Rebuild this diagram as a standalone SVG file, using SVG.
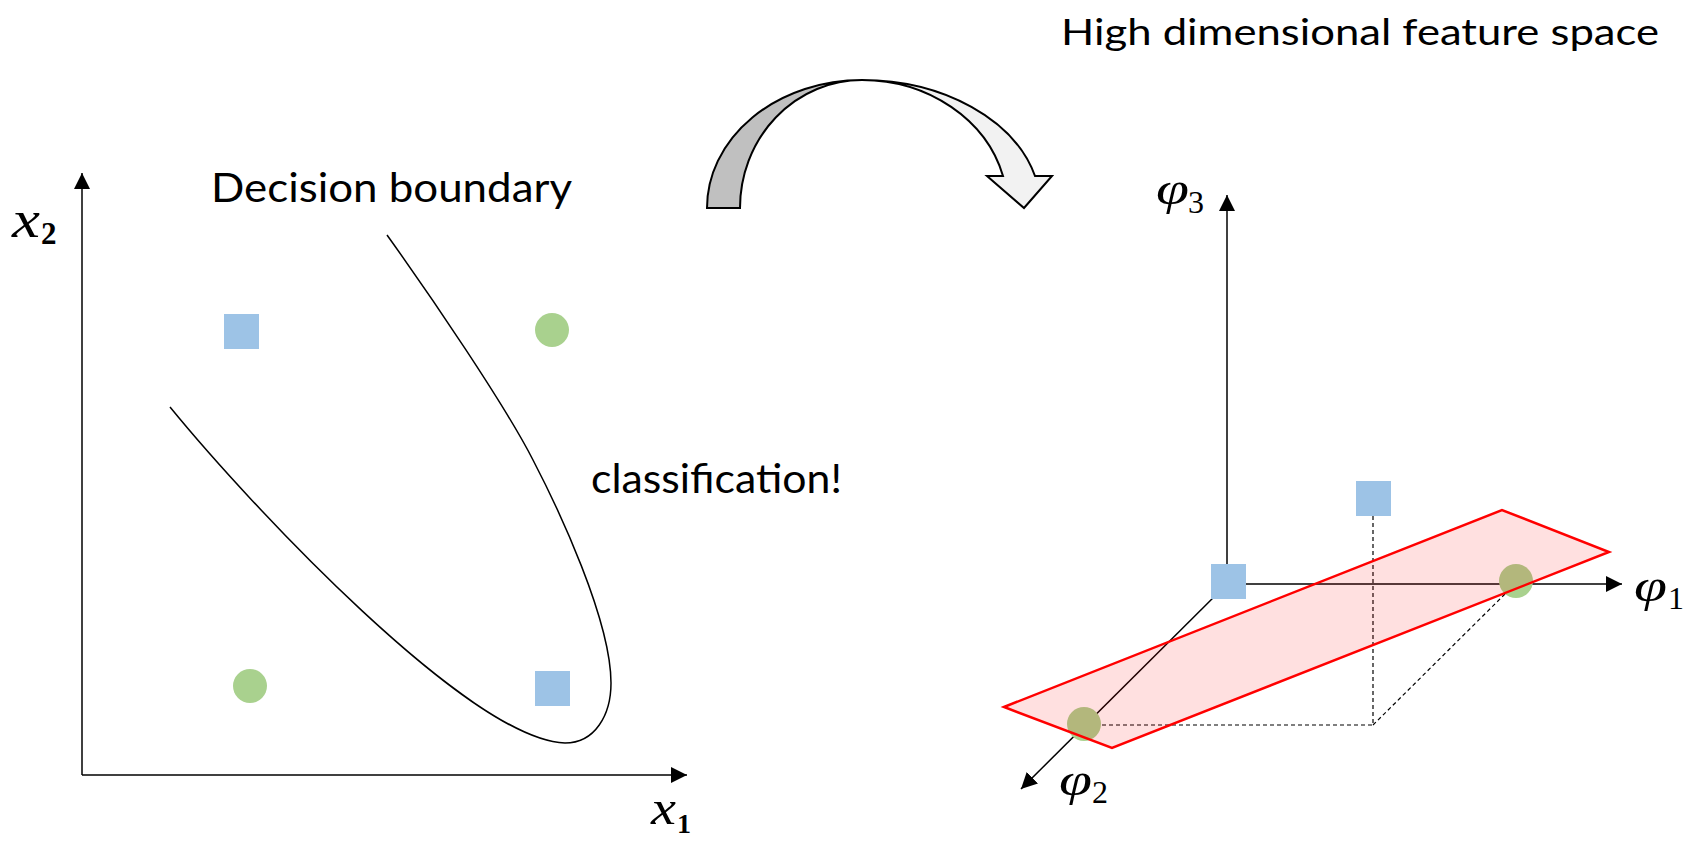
<svg xmlns="http://www.w3.org/2000/svg" width="1698" height="844" viewBox="0 0 1698 844">
<style>
.axis{stroke:#000;stroke-width:1.5;fill:none}
.dash{stroke:#000;stroke-width:1.2;fill:none;stroke-dasharray:4 3}
.sq{fill:#9dc3e6}
.ci{fill:#a9d18e}
.lbl{font-family:Lato,"Open Sans",sans-serif;fill:#000}
.math{font-family:"Liberation Serif","Times New Roman",serif;font-style:italic;fill:#000}
.sub{font-family:"Liberation Serif","Times New Roman",serif;font-style:normal;fill:#000}
</style>
<defs>
<marker id="ah" viewBox="0 0 16 16" refX="16" refY="8" markerWidth="16" markerHeight="16" markerUnits="userSpaceOnUse" orient="auto"><path d="M0,0 L16,8 L0,16 Z" fill="#000"/></marker>
</defs>
<rect width="1698" height="844" fill="#fff"/>

<g id="connectors">
<line class="axis" x1="82" y1="775" x2="82" y2="173" marker-end="url(#ah)"/>
<line class="axis" x1="82" y1="775" x2="687" y2="775" marker-end="url(#ah)"/>
<line class="axis" x1="1227" y1="584" x2="1227" y2="195" marker-end="url(#ah)"/>
<line class="axis" x1="1227" y1="584" x2="1622" y2="584" marker-end="url(#ah)"/>
<line class="axis" x1="1227" y1="584" x2="1021" y2="789" marker-end="url(#ah)"/>
<path class="dash" d="M1373,516 L1373,725 L1100,725 M1373,725 L1506,593"/>
</g>

<g id="boundary">
<path class="axis" d="M170,407 C250,505 470,740 565,743 C595,743 611,715 611,683 C611,620 558,508 533,460 C505,405 430,295 387,235"/>
</g>

<g id="mapping-arrow" stroke="#000" stroke-width="2" stroke-linejoin="miter">
<path d="M707,208 A155,128 0 0 1 862,80 A122,128 0 0 0 740,208 Z" fill="#c0c0c0"/>
<path d="M862,80 A179,128 0 0 1 1035,176 L1052,176 L1024,208 L987,176 L1003,176 A146,128 0 0 0 862,80 Z" fill="#f2f2f2"/>
</g>

<g id="left-points">
<rect class="sq" x="224" y="314" width="35" height="35"/>
<circle class="ci" cx="552" cy="330" r="17"/>
<circle class="ci" cx="250" cy="686" r="17"/>
<rect class="sq" x="535" y="671" width="35" height="35"/>
</g>

<g id="right-points">
<rect class="sq" x="1211" y="564" width="35" height="35"/>
<rect class="sq" x="1356" y="481" width="35" height="35"/>
<circle class="ci" cx="1084" cy="724" r="17"/>
<circle class="ci" cx="1516" cy="581" r="17"/>
</g>

<g id="plane">
<polygon points="1004,707 1502,510 1609,552 1112,748" fill="#ff0000" fill-opacity="0.12" stroke="#ff0000" stroke-width="2.5" stroke-linejoin="miter"/>
</g>

<g id="labels">
<text class="lbl" x="211" y="202" font-size="41" textLength="361" lengthAdjust="spacingAndGlyphs">Decision boundary</text>
<text class="lbl" x="591" y="493" font-size="41" textLength="251" lengthAdjust="spacingAndGlyphs">classification!</text>
<text class="lbl" x="1061" y="45" font-size="36" textLength="598" lengthAdjust="spacingAndGlyphs">High dimensional feature space</text>
<text class="math" x="12" y="237" font-size="52" textLength="28" lengthAdjust="spacingAndGlyphs">x</text>
<text class="sub" x="41" y="244" font-size="31" font-weight="bold">2</text>
<text class="math" x="651" y="824" font-size="48" textLength="25" lengthAdjust="spacingAndGlyphs">x</text>
<text class="sub" x="677" y="833" font-size="28" font-weight="bold">1</text>
<text class="math" x="1156" y="204" font-size="46" textLength="33" lengthAdjust="spacingAndGlyphs">φ</text>
<text class="sub" x="1188" y="213" font-size="32">3</text>
<text class="math" x="1634" y="601" font-size="46" textLength="33" lengthAdjust="spacingAndGlyphs">φ</text>
<text class="sub" x="1668" y="609" font-size="32">1</text>
<text class="math" x="1059" y="795" font-size="46" textLength="33" lengthAdjust="spacingAndGlyphs">φ</text>
<text class="sub" x="1092" y="803" font-size="32">2</text>
</g>
</svg>
